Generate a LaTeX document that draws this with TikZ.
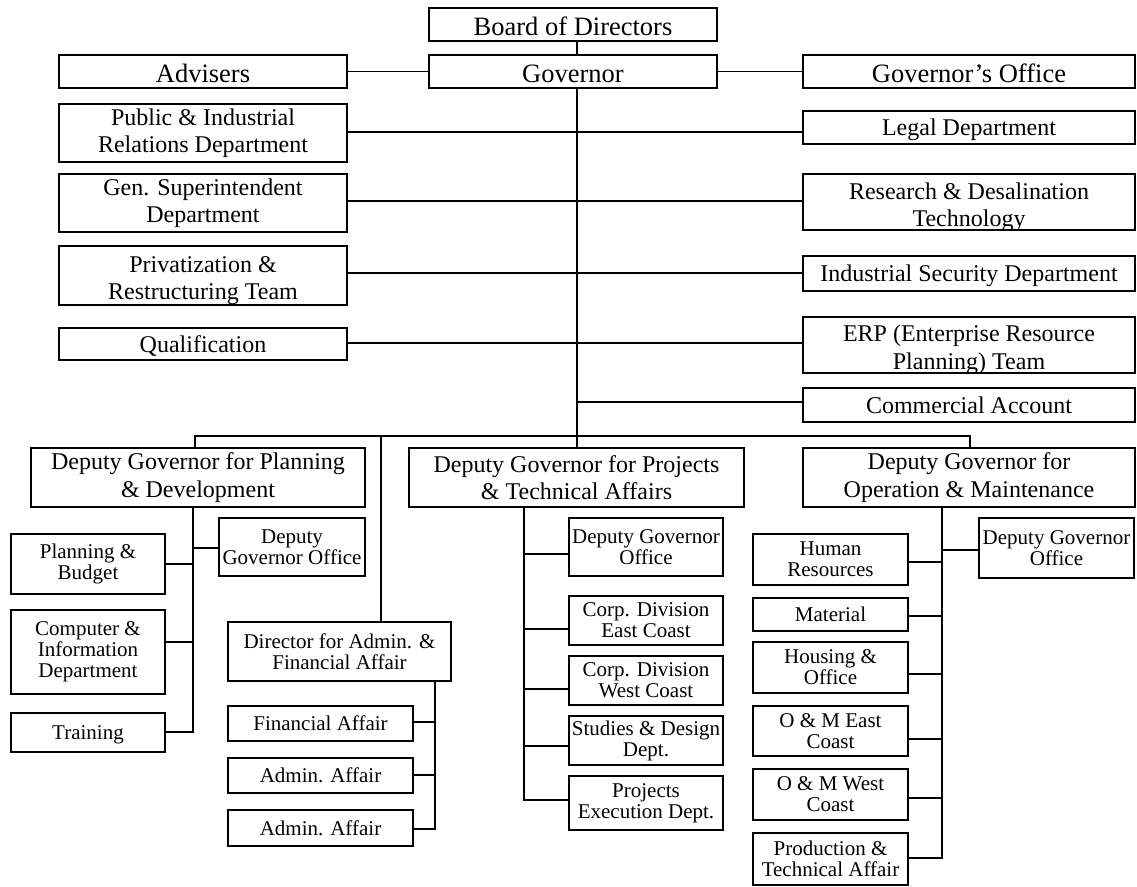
\documentclass[tikz,border=0pt]{standalone}
\usepackage{fontspec}
\setmainfont{Liberation Serif}
\tikzset{
  box/.style={draw, line width=1.7pt, inner sep=0pt, align=center},
  conn/.style={line width=1.5pt},
  fA/.style={font=\fontsize{26.5}{30}\selectfont},
  fB/.style={font=\fontsize{24}{27.5}\selectfont},
  fC/.style={font=\fontsize{21}{21}\selectfont},
  one/.style={text depth=0pt},
  low/.style={text depth=0pt, text height=22pt},
}
% \obox[extra]{font style}{x1}{y1}{x2}{y2}{name}{text}
\newcommand\obox[7][]{\node[box,#2,minimum width={#5-#3},minimum height={#6-#4},#1] (#7) at ({(#3+#5)/2},{(#4+#6)/2})}
\begin{document}
\begin{tikzpicture}[x=1pt,y=-1pt]
\fill[white] (0,0) rectangle (1137,886);
\useasboundingbox (0,0) rectangle (1137,886);

% ---- top level ----
\obox[low]{fA}{429}{8}{717}{41}{board} {Board of Directors};
\obox[low]{fA}{429}{55}{717}{88}{gov} {Governor};
\obox[low]{fA}{59}{55}{347}{88}{adv} {Advisers};
\obox[low]{fA}{803}{55}{1135}{88}{govoff} {Governor's Office};

% ---- staff units ----
\obox{fB}{59}{104}{347}{162}{pub} {Public \& Industrial\\Relations Department};
\obox[one]{fB}{803}{111}{1135}{144}{legal} {Legal Department};
\obox{fB}{59}{174}{347}{232}{gensup} {Gen. Superintendent\\Department};
\obox{fB}{803}{174}{1135}{230}{research} {};
\obox{fB}{59}{246}{347}{305}{priv} {};
\obox[one]{fB}{803}{256}{1135}{291}{indsec} {Industrial Security Department};
\obox[one]{fB}{59}{328}{347}{360}{qual} {Qualification};
\obox{fB}{803}{317}{1135}{373}{erp} {};
\obox[one]{fB}{803}{388}{1135}{422}{comm} {Commercial Account};

% texts that run into the lower border of their boxes
\begin{scope}
  \clip (800,170) rectangle (1138,229.2);
  \node[fB,align=center,yshift=-5.5pt] (research-t) at (research) {Research \& Desalination\\Technology};
\end{scope}
\begin{scope}
  \clip (56,242) rectangle (350,304.2);
  \node[fB,align=center,yshift=-5pt] (priv-t) at (priv) {Privatization \&\\Restructuring Team};
\end{scope}
\begin{scope}
  \clip (800,313) rectangle (1138,372.2);
  \node[fB,align=center,yshift=-5pt] (erp-t) at (erp) {ERP (Enterprise Resource\\Planning) Team};
\end{scope}

% ---- deputy governors ----
\obox{fB}{31}{448}{365}{507}{dgpl} {Deputy Governor for Planning\\\& Development};
\obox{fB}{409}{448}{744}{507}{dgpr} {Deputy Governor for Projects\\\& Technical Affairs};
\obox{fB}{803}{448}{1135}{507}{dgom} {Deputy Governor for\\Operation \& Maintenance};

% ---- planning & development ----
\obox{fC}{219}{518}{365}{576}{dgopl} {Deputy\\Governor Office};
\obox{fC}{11}{534}{165}{594}{pb} {Planning \&\\Budget};
\obox{fC}{11}{610}{165}{694}{comp} {Computer \&\\Information\\Department};
\obox[one]{fC}{11}{713}{165}{752}{train} {Training};
\obox{fC}{228}{622}{451}{681}{dir} {Director for Admin. \&\\Financial Affair};
\obox[one]{fC}{228}{706}{413}{741}{fin} {Financial Affair};
\obox[one]{fC}{228}{758}{413}{793}{adm1} {Admin. Affair};
\obox[one]{fC}{228}{810}{413}{846}{adm2} {Admin. Affair};

% ---- projects & technical affairs ----
\obox{fC}{569}{518}{723}{576}{dgopr} {Deputy Governor\\Office};
\obox{fC}{569}{596}{723}{645}{corpE} {Corp. Division\\East Coast};
\obox{fC}{569}{656}{723}{705}{corpW} {Corp. Division\\West Coast};
\obox{fC}{569}{716}{723}{765}{studies} {Studies \& Design\\Dept.};
\obox{fC}{569}{776}{723}{830}{exec} {Projects\\Execution Dept.};

% ---- operation & maintenance ----
\obox{fC}{979}{518}{1134}{578}{dgoom} {Deputy Governor\\Office};
\obox{fC}{753}{534}{908}{585}{hr} {Human\\Resources};
\obox[one]{fC}{753}{598}{908}{631}{mat} {Material};
\obox{fC}{753}{642}{908}{693}{housing} {Housing \&\\Office};
\obox{fC}{753}{706}{908}{756}{omE} {O \& M East\\Coast};
\obox{fC}{753}{769}{908}{820}{omW} {O \& M West\\Coast};
\obox{fC}{753}{833}{908}{885}{prod} {Production \&\\Technical Affair};

% ---- junction points ----
\coordinate (spine) at (577,0);
\coordinate (j-pub) at (577,132);
\coordinate (j-gensup) at (577,201);
\coordinate (j-priv) at (577,273);
\coordinate (j-qual) at (577,343);
\coordinate (j-comm) at (577,402);
\coordinate (busL) at (195,436);
\coordinate (busR) at (970,436);
\coordinate (dirtop) at (381,436);

\coordinate (j-dgopl) at (193,548);
\coordinate (j-pb) at (193,564);
\coordinate (j-comp) at (193,642);
\coordinate (j-train) at (193,732);

\coordinate (j-fin) at (435,722);
\coordinate (j-adm1) at (435,775);
\coordinate (j-adm2) at (435,829);

\coordinate (j-dgopr) at (524,554);
\coordinate (j-corpE) at (524,629);
\coordinate (j-corpW) at (524,689);
\coordinate (j-studies) at (524,746);
\coordinate (j-exec) at (524,800);

\coordinate (j-dgoom) at (942,550);
\coordinate (j-hr) at (942,562);
\coordinate (j-mat) at (942,616);
\coordinate (j-housing) at (942,674);
\coordinate (j-omE) at (942,739);
\coordinate (j-omW) at (942,798);
\coordinate (j-prod) at (942,858);

% ---- connectors ----
\begin{scope}[conn]
\draw (board.south -| spine) -- (gov.north -| spine);
\draw (adv.east) -- (gov.west);
\draw (gov.east) -- (govoff.west);
\draw (gov.south -| spine) -- (dgpr.north -| spine);

\draw (pub.east |- j-pub) -- (legal.west |- j-pub);
\draw (gensup.east |- j-gensup) -- (research.west |- j-gensup);
\draw (priv.east |- j-priv) -- (indsec.west |- j-priv);
\draw (qual.east |- j-qual) -- (erp.west |- j-qual);
\draw (j-comm) -- (comm.west |- j-comm);

\draw (dgpl.north -| busL) -- (busL) -- (busR) -- (dgom.north -| busR);
\draw (dirtop) -- (dir.north -| dirtop);

\draw (dgpl.south -| j-train) -- (j-train) -- (train.east |- j-train);
\draw (j-dgopl) -- (dgopl.west |- j-dgopl);
\draw (j-pb) -- (pb.east |- j-pb);
\draw (j-comp) -- (comp.east |- j-comp);

\draw (dir.south -| j-adm2) -- (j-adm2) -- (adm2.east |- j-adm2);
\draw (j-fin) -- (fin.east |- j-fin);
\draw (j-adm1) -- (adm1.east |- j-adm1);

\draw (dgpr.south -| j-exec) -- (j-exec) -- (exec.west |- j-exec);
\draw (j-dgopr) -- (dgopr.west |- j-dgopr);
\draw (j-corpE) -- (corpE.west |- j-corpE);
\draw (j-corpW) -- (corpW.west |- j-corpW);
\draw (j-studies) -- (studies.west |- j-studies);

\draw (dgom.south -| j-prod) -- (j-prod) -- (prod.east |- j-prod);
\draw (j-dgoom) -- (dgoom.west |- j-dgoom);
\draw (j-hr) -- (hr.east |- j-hr);
\draw (j-mat) -- (mat.east |- j-mat);
\draw (j-housing) -- (housing.east |- j-housing);
\draw (j-omE) -- (omE.east |- j-omE);
\draw (j-omW) -- (omW.east |- j-omW);
\end{scope}
\end{tikzpicture}
\end{document}
